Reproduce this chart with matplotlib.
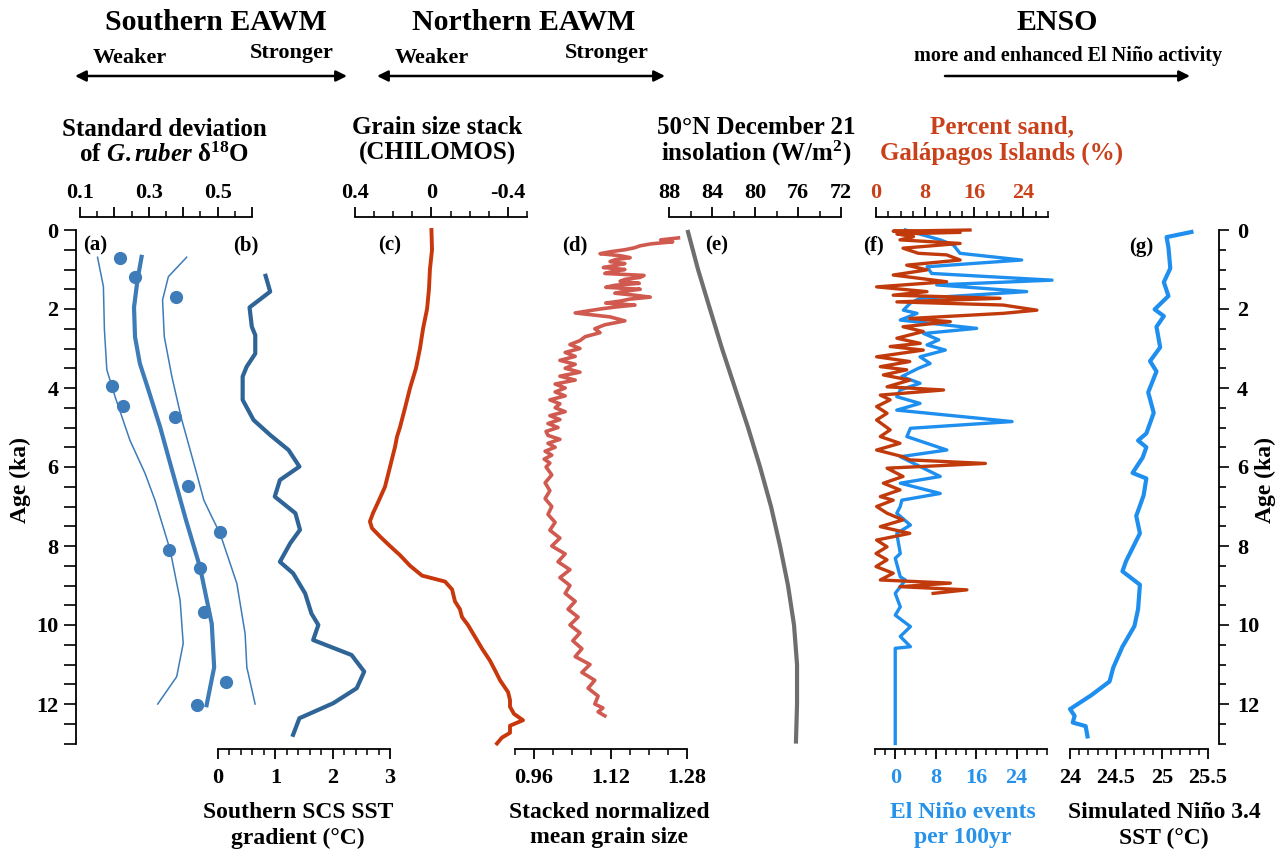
import matplotlib
matplotlib.use("Agg")
import matplotlib.pyplot as plt
import numpy as np

plt.rcParams["font.family"] = ["Liberation Serif", "DejaVu Serif"]
plt.rcParams["font.weight"] = "bold"
plt.rcParams["mathtext.fontset"] = "custom"
plt.rcParams["mathtext.rm"] = "Liberation Serif:bold"
plt.rcParams["mathtext.it"] = "Liberation Serif:italic:bold"
plt.rcParams["mathtext.bf"] = "Liberation Serif:bold"

# (a) standard deviation of G.ruber d18O
a_dot_age = [0.70, 1.20, 1.70, 3.95, 4.46, 4.73, 6.48, 7.65, 8.10, 8.55, 9.66, 11.45, 12.02]
a_dot_sd = [0.217, 0.261, 0.378, 0.192, 0.224, 0.377, 0.414, 0.508, 0.359, 0.448, 0.461, 0.524, 0.439]
a_fit_age = [0.68, 1.27, 1.96, 2.71, 3.38, 3.97, 4.99, 6.0, 6.84, 7.34, 8.54, 9.97, 11.07, 12.03]
a_fit = [0.279, 0.267, 0.257, 0.260, 0.274, 0.296, 0.333, 0.365, 0.392, 0.408, 0.449, 0.483, 0.490, 0.468]
a_lo_age = [0.69, 1.43, 2.53, 3.54, 4.22, 5.32, 6.16, 6.84, 8.1, 9.37, 10.47, 11.31, 12.0]
a_lo = [0.151, 0.168, 0.171, 0.178, 0.202, 0.245, 0.289, 0.318, 0.362, 0.391, 0.400, 0.381, 0.326]
a_hi_age = [0.69, 1.18, 1.77, 2.7, 3.71, 4.81, 6.16, 6.84, 7.26, 7.68, 8.95, 10.22, 11.07, 12.0]
a_hi = [0.410, 0.357, 0.340, 0.345, 0.367, 0.396, 0.439, 0.460, 0.483, 0.507, 0.556, 0.580, 0.585, 0.609]

# (b) southern SCS SST gradient
b_age = [1.16, 1.56, 1.96, 2.45, 2.66, 3.13, 3.46, 3.71, 4.3, 4.81, 5.19, 5.57, 5.99, 6.33, 6.75,
         7.17, 7.59, 7.93, 8.4, 8.69, 9.2, 9.71, 10.0, 10.38, 10.76, 11.18, 11.6, 11.98, 12.36, 12.78]
b_grad = [0.83, 0.91, 0.55, 0.59, 0.65, 0.65, 0.50, 0.43, 0.43, 0.62, 0.91, 1.23, 1.42, 1.08, 0.99,
          1.35, 1.43, 1.26, 1.08, 1.31, 1.52, 1.63, 1.75, 1.66, 2.33, 2.55, 2.42, 2.01, 1.42, 1.31]

# (c) grain size stack (CHILOMOS)
c_age = [0.0, 0.5, 1.0, 1.5, 2.0, 2.5, 3.0, 3.5, 4.0, 4.5, 5.0, 5.23, 5.5, 6.0, 6.5, 6.9, 7.17, 7.38,
         7.55, 7.76, 8.0, 8.23, 8.5, 8.75, 8.9, 9.1, 9.4, 9.6, 9.8, 10.0, 10.3, 10.6, 10.9, 11.15,
         11.4, 11.7, 11.9, 12.07, 12.25, 12.41, 12.55, 12.73, 12.85, 13.0]
c_val = [0.0, -0.003, 0.008, 0.013, 0.023, 0.044, 0.060, 0.081, 0.112, 0.138, 0.165, 0.180, 0.191,
         0.217, 0.243, 0.280, 0.306, 0.322, 0.311, 0.269, 0.217, 0.165, 0.112, 0.049, -0.071, -0.108,
         -0.123, -0.149, -0.160, -0.191, -0.228, -0.265, -0.306, -0.333, -0.359, -0.401, -0.411,
         -0.411, -0.432, -0.479, -0.411, -0.411, -0.369, -0.343]

# (d) stacked normalized mean grain size
d_age = [0.2, 0.25, 0.3, 0.35, 0.4, 0.45, 0.5, 0.55, 0.6, 0.65, 0.7, 0.75, 0.8, 0.85, 0.9, 0.95,
         1.0, 1.05, 1.1, 1.15, 1.2, 1.25, 1.3, 1.35, 1.4, 1.45, 1.5, 1.55, 1.6, 1.65, 1.7, 1.75,
         1.8, 1.85, 1.9, 1.95, 2.0, 2.1, 2.2, 2.3, 2.4, 2.5, 2.6, 2.7, 2.8, 2.9, 3.0, 3.1, 3.2,
         3.3, 3.4, 3.5, 3.6, 3.7, 3.8, 3.9, 4.0, 4.1, 4.2, 4.3, 4.4, 4.5, 4.6, 4.7, 4.8, 4.9, 5.0,
         5.1, 5.2, 5.3, 5.4, 5.5, 5.6, 5.7, 5.8, 5.9, 6.0, 6.2, 6.4, 6.6, 6.8, 7.0, 7.2, 7.4, 7.6,
         7.8, 8.0, 8.2, 8.4, 8.6, 8.8, 9.0, 9.2, 9.4, 9.6, 9.8, 10.0, 10.2, 10.4, 10.6, 10.8, 11.0,
         11.2, 11.4, 11.6, 11.8, 12.0, 12.1, 12.2, 12.3]
d_val = [1.262, 1.225, 1.250, 1.205, 1.182, 1.170, 1.150, 1.120, 1.098, 1.140, 1.161, 1.130, 1.119,
         1.150, 1.129, 1.105, 1.150, 1.125, 1.108, 1.190, 1.182, 1.150, 1.140, 1.180, 1.129, 1.110,
         1.182, 1.150, 1.129, 1.170, 1.203, 1.160, 1.140, 1.110, 1.171, 1.130, 1.098, 1.046, 1.119,
         1.150, 1.108, 1.087, 1.098, 1.067, 1.056, 1.035, 1.056, 1.025, 1.046, 1.014, 1.046, 1.025,
         1.056, 1.014, 1.046, 1.004, 1.025, 1.004, 1.025, 0.993, 1.014, 1.004, 1.025, 0.993, 1.014,
         0.989, 1.010, 0.985, 0.989, 1.014, 0.989, 1.004, 0.983, 0.997, 0.981, 0.993, 0.985, 0.997,
         0.983, 0.993, 0.983, 0.997, 0.989, 1.004, 0.993, 1.014, 0.997, 1.025, 1.010, 1.035, 1.014,
         1.035, 1.025, 1.046, 1.031, 1.052, 1.035, 1.056, 1.041, 1.060, 1.046, 1.077, 1.060, 1.087,
         1.073, 1.094, 1.087, 1.104, 1.094, 1.108]

# (e) 50N December 21 insolation
e_age = [0.05, 1, 2, 3, 4, 5, 6, 7, 8, 9, 10, 11, 12, 12.95]
e_val = [86.23, 85.30, 84.19, 83.07, 81.86, 80.65, 79.53, 78.51, 77.67, 76.93, 76.37, 76.09, 76.09, 76.19]

# (f) El Nino events per 100 yr
f_nino_age = [0.0, 0.13, 0.25, 0.38, 0.59, 0.76, 0.93, 1.1, 1.27, 1.39, 1.56, 1.73, 1.85, 2.03, 2.11,
              2.28, 2.49, 2.62, 2.78, 2.91, 3.04, 3.21, 3.38, 3.5, 3.71, 3.88, 4.05, 4.22, 4.39, 4.56,
              4.85, 5.02, 5.23, 5.57, 5.74, 5.95, 6.24, 6.41, 6.67, 6.84, 7.0, 7.17, 7.47, 7.68, 8.19,
              8.31, 8.78, 8.86, 9.2, 9.54, 9.75, 10.04, 10.29, 10.55, 10.59, 13.0]
f_nino = [2.0, 5.6, 8.9, 11.5, 12.8, 25.0, 6.3, 7.2, 31.0, 8.2, 26.0, 4.9, 3.0, 1.6, 4.3,
          1.0, 16.1, 5.6, 8.6, 6.3, 9.9, 4.9, 6.9, 4.6, 1.3, 4.9, 1.0, 0.3, 4.9, 0.3,
          23.1, 3.0, 2.3, 10.2, 1.0, 4.3, 8.9, 1.0, 8.9, 1.3, 1.0, 0.3, 3.0, 0.3, 1.0,
          0.0, 1.0, 2.0, 0.0, 1.0, 0.0, 3.0, 1.0, 3.0, 0.0, 0.0]

# (f) percent sand, Galapagos Islands
f_sand_age = [0.00, 0.03, 0.06, 0.10, 0.17, 0.25, 0.34, 0.46, 0.59, 0.63, 0.76, 0.89, 1.01, 1.14,
              1.31, 1.44, 1.56, 1.65, 1.73, 1.82, 1.90, 2.03, 2.11, 2.24, 2.32, 2.45, 2.57, 2.74,
              2.87, 2.95, 3.04, 3.21, 3.33, 3.46, 3.54, 3.67, 3.80, 3.97, 4.05, 4.18, 4.30, 4.47,
              4.64, 4.81, 5.06, 5.23, 5.40, 5.57, 5.74, 5.82, 5.91, 6.03, 6.24, 6.41, 6.58, 6.75,
              6.84, 7.00, 7.17, 7.34, 7.51, 7.68, 7.85, 8.02, 8.19, 8.35, 8.52, 8.69, 8.86, 8.94,
              9.03, 9.11, 9.20]
f_sand = [15.3, 2.8, 13.7, 3.4, 6.1, 3.9, 13.7, 4.4, 6.9, 11.5, 13.7, 5.0, 8.3, 2.8,
          11.5, 0.1, 8.3, 2.8, 20.2, 3.4, 20.7, 26.2, 20.7, 5.5, 12.1, 4.4, 7.7, 3.4,
          7.2, 2.3, 7.7, 0.1, 5.5, 0.7, 5.0, 1.2, 5.5, 1.8, 11.0, 0.7, 2.3, 0.1,
          1.8, 0.1, 2.3, 0.7, 3.9, 0.1, 4.4, 5.5, 17.8, 1.8, 4.4, 1.2, 3.9, 0.7,
          2.8, 0.1, 1.8, 4.4, 0.7, 5.5, 0.1, 1.8, 0.0, 1.8, 0.0, 2.8, 0.7, 12.1,
          3.9, 14.8, 9.3]

# (g) simulated Nino 3.4 SST
g_age = [0.05, 0.18, 0.44, 0.97, 1.32, 1.67, 2.01, 2.18, 2.45, 2.97, 3.32, 3.58, 4.11, 4.63, 5.15,
         5.33, 5.5, 5.76, 6.15, 6.29, 6.72, 7.24, 7.68, 8.38, 8.64, 8.98, 9.6, 10.03, 10.55, 11.08,
         11.43, 11.78, 12.13, 12.3, 12.47, 12.56, 12.82]
g_sst = [25.32, 25.05, 25.07, 25.09, 25.02, 25.07, 24.92, 25.02, 24.94, 24.98, 24.87, 24.94, 24.85,
         24.91, 24.83, 24.74, 24.83, 24.79, 24.68, 24.83, 24.80, 24.72, 24.76, 24.61, 24.57, 24.76,
         24.74, 24.70, 24.57, 24.47, 24.43, 24.23, 24.00, 24.05, 24.03, 24.17, 24.19]

RED_TXT = "#c9411b"
BLUE_TXT = "#2792ea"

W, H = 1277, 851
fig = plt.figure(figsize=(W / 100, H / 100), dpi=100)

AGE_TOP, AGE_BOT = 230, 743.5
y0 = 1 - AGE_BOT / H
hh = (AGE_BOT - AGE_TOP) / H


def track(x_left, width, xlim, side, major, labels, minor, color="black"):
    ax = fig.add_axes([x_left / W, y0, width / W, hh])
    ax.patch.set_visible(False)
    ax.set_xlim(*xlim)
    ax.set_ylim(13, 0)
    for s in ax.spines:
        ax.spines[s].set_visible(s == side)
    ax.spines[side].set_position(("outward", 9.4 if side == "top" else 3.6))
    ax.spines[side].set_linewidth(1.3)
    ax.xaxis.set_ticks_position(side)
    ax.set_yticks([])
    ax.set_xticks(major, labels)
    ax.set_xticks(minor, minor=True)
    ax.tick_params(axis="x", which="major", direction="out", length=7, width=1.3,
                   labelsize=16, pad=3 if side == "top" else 7, labelcolor=color)
    ax.tick_params(axis="x", which="minor", direction="out", length=4, width=1.1)
    return ax


# (a)
ax_a = track(80, 172, (0.1, 0.6), "top", [0.1, 0.2, 0.3, 0.4, 0.5, 0.6],
             ["0.1", "", "0.3", "", "0.5", ""], np.arange(0.15, 0.6, 0.1))
ax_a.plot(a_lo, a_lo_age, color="#3d7cb8", lw=1.1, clip_on=False)
ax_a.plot(a_hi, a_hi_age, color="#3d7cb8", lw=1.1, clip_on=False)
ax_a.plot(a_fit, a_fit_age, color="#3d7cb8", lw=3.0, clip_on=False)
ax_a.plot(a_dot_sd, a_dot_age, "o", color="#3d7cb8", ms=8.5, clip_on=False)

# (b)
ax_b = track(218, 172, (0, 3), "bottom", [0, 1, 2, 3], ["0", "1", "2", "3"],
             np.arange(0, 3.01, 0.2))
ax_b.plot(b_grad, b_age, color="#2f6496", lw=3.0, clip_on=False)

# (c)
ax_c = track(355, 172, (0.4, -0.5), "top", [0.4, 0.0, -0.4], ["0.4", "0", "-0.4"],
             np.arange(-0.5, 0.41, 0.1))
ax_c.plot(c_val, c_age, color="#c8380c", lw=2.8, clip_on=False)

# (d)
ax_d = track(515, 172, (0.92, 1.28), "bottom", [0.96, 1.12, 1.28], ["0.96", "1.12", "1.28"],
             np.arange(0.92, 1.281, 0.04))
ax_d.plot(d_val, d_age, color="#d05a50", lw=2.6, clip_on=False)

# (e)
ax_e = track(669, 172, (88, 72), "top", [88, 84, 80, 76, 72], ["88", "84", "80", "76", "72"],
             np.arange(72, 88.1, 2))
ax_e.plot(e_val, e_age, color="#6e6e6e", lw=3.0, clip_on=False)

# (f) blue: El Nino events, bottom axis
ax_f2 = track(875, 172, (-4, 30), "bottom", [0, 8, 16, 24], ["0", "8", "16", "24"],
              np.arange(-4, 30.1, 2), color=BLUE_TXT)
ax_f2.plot(f_nino, f_nino_age, color="#1f8fef", lw=2.4, clip_on=False)

# (f) red: percent sand, top axis
ax_f1 = track(876, 172, (0, 28), "top", [0, 8, 16, 24], ["0", "8", "16", "24"],
              np.arange(0, 28.1, 2), color=RED_TXT)
ax_f1.plot(f_sand, f_sand_age, color="#c13a0c", lw=2.4, clip_on=False)

# (g)
ax_g = track(1070, 138, (24, 25.5), "bottom", [24, 24.5, 25, 25.5], ["24", "24.5", "25", "25.5"],
             np.arange(24, 25.51, 0.1))
ax_g.plot(g_sst, g_age, color="#1f8fef", lw=3.0, clip_on=False)

# age axes
ax_l = fig.add_axes([76 / W, y0, 1 / W, hh])
ax_r = fig.add_axes([1218 / W, y0, 1 / W, hh])
for ax, side in [(ax_l, "left"), (ax_r, "right")]:
    ax.patch.set_visible(False)
    ax.set_ylim(13, 0)
    ax.set_xticks([])
    for s in ax.spines:
        ax.spines[s].set_visible(s == side)
    ax.spines[side].set_linewidth(1.3)
    ax.yaxis.set_ticks_position(side)
    ax.set_yticks(range(0, 13, 2))
    ax.set_yticks(np.arange(0, 13.01, 0.5), minor=True)
ax_l.tick_params(axis="y", which="both", length=8.5, width=1.2, labelsize=16, pad=4)
ax_r.tick_params(axis="y", which="major", length=7, width=1.2, labelsize=16, pad=6)
ax_r.tick_params(axis="y", which="minor", length=5, width=1.2)

# overlay for text and arrows in pixel coordinates
ov = fig.add_axes([0, 0, 1, 1])
ov.set_xlim(0, W)
ov.set_ylim(H, 0)
ov.axis("off")


def t(x, y, s, size=17, color="black", **kw):
    ov.text(x, y, s, fontsize=size, color=color, ha="center", va="center",
            fontweight="bold", **kw)


t(216, 22, "Southern EAWM", 21.5)
t(524, 22, "Northern EAWM", 21.5)
t(1057, 22, "ENSO", 21.5)
t(130, 58, "Weaker", 16)
t(292, 53, "Stronger", 16)
t(432, 58, "Weaker", 16)
t(607, 53, "Stronger", 16)
t(1068, 56, "more and enhanced El Niño activity", 14.5)
arrow = dict(color="black", lw=1.8, mutation_scale=16, shrinkA=0, shrinkB=0)
ov.annotate("", xy=(347, 76), xytext=(75, 76), arrowprops=dict(arrowstyle="<|-|>", **arrow))
ov.annotate("", xy=(665, 76), xytext=(377, 76), arrowprops=dict(arrowstyle="<|-|>", **arrow))
ov.annotate("", xy=(1190, 76), xytext=(945, 76), arrowprops=dict(arrowstyle="-|>", **arrow))

t(164, 130, "Standard deviation", 18)
t(164, 155, r"of $\mathit{G.ruber}$ δ$^{18}$O", 18)
t(437, 127, "Grain size stack", 18)
t(437, 153, "(CHILOMOS)", 18)
t(756, 127, "50°N December 21", 18)
t(756, 153, r"insolation (W/m$^{2}$)", 18)
t(1002, 127, "Percent sand,", 18, color=RED_TXT)
t(1002, 153, "Galápagos Islands (%)", 18, color=RED_TXT)

t(298, 812, "Southern SCS SST")
t(298, 838, "gradient (°C)")
t(609, 812, "Stacked normalized")
t(609, 838, "mean grain size")
t(963, 812, "El Niño events", color=BLUE_TXT)
t(963, 838, "per 100yr", color=BLUE_TXT)
t(1164, 812, "Simulated Niño 3.4")
t(1164, 838, "SST (°C)")

for x, y, s in [(95, 245, "(a)"), (246, 245, "(b)"), (390, 245, "(c)"), (575, 245, "(d)"),
                (717, 245, "(e)"), (873, 245, "(f)"), (1141, 247, "(g)")]:
    t(x, y, s, 15)

t(20, 480, "Age (ka)", rotation=90)
t(1265, 480, "Age (ka)", rotation=90)

fig.savefig("out.png", dpi=100)
